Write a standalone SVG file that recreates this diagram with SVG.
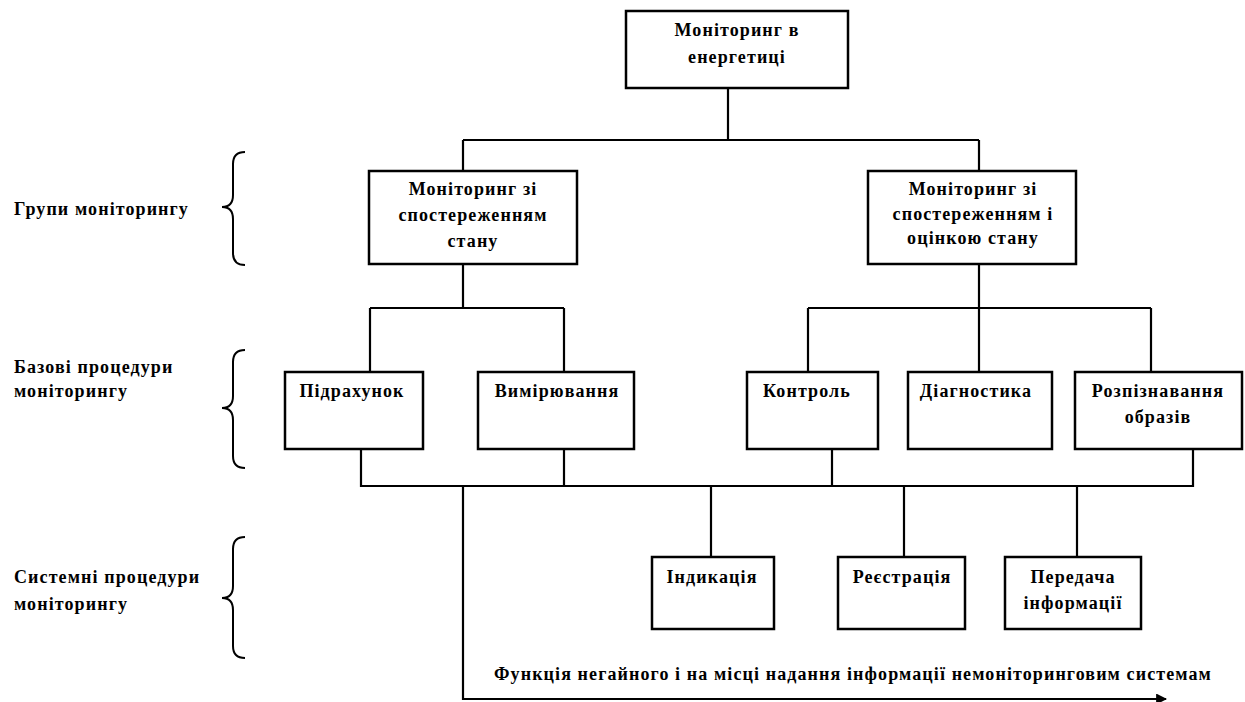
<svg xmlns="http://www.w3.org/2000/svg" width="1245" height="702" viewBox="0 0 1245 702">
<defs>
<marker id="arr" viewBox="0 0 10 10" refX="9" refY="5" markerWidth="5" markerHeight="5" orient="auto" markerUnits="strokeWidth">
<path d="M0,0 L10,5 L0,10 z" fill="#000"/>
</marker>
<style>
.box{fill:#fff;stroke:#000;stroke-width:2.5}
.ln{fill:none;stroke:#000;stroke-width:2.2}
.br{fill:none;stroke:#000;stroke-width:2}
text{font-family:"Liberation Serif","Times New Roman",serif;font-weight:bold;font-size:18px;letter-spacing:1.1px;fill:#000}
.c{text-anchor:middle}
</style>
</defs>
<rect width="1245" height="702" fill="#fff"/>

<g id="connectors">
<path class="ln" d="M728,88 V140 M463,140 H979 M463,140 V171 M979,140 V171"/>
<path class="ln" d="M463,264 V308 M370,308 H564 M370,308 V372 M564,308 V372"/>
<path class="ln" d="M979,264 V308 M808,308 H1151 M808,308 V372 M979,308 V372 M1151,308 V372"/>
<path class="ln" d="M361,449 V486 H1193 V449 M564,449 V486 M832,449 V486"/>
<path class="ln" d="M711,486 V557 M904,486 V557 M1077,486 V557"/>
<path class="ln" d="M463,486 V699 H1166" marker-end="url(#arr)"/>
</g>

<g id="labels">
<text x="14" y="215">Групи моніторингу</text>
<path class="br" d="M245,152 Q233,152 233,164 L233,195 Q233,207 222,207 Q233,207 233,219 L233,253 Q233,265 245,265"/>
<text x="14" y="373">Базові процедури</text>
<text x="14" y="397">моніторингу</text>
<path class="br" d="M245,350 Q233,350 233,362 L233,396 Q233,408 222,408 Q233,408 233,420 L233,456 Q233,468 245,468"/>
<text x="14" y="583">Системні процедури</text>
<text x="14" y="610">моніторингу</text>
<path class="br" d="M245,537 Q233,537 233,549 L233,586 Q233,598 222,598 Q233,598 233,610 L233,646 Q233,658 245,658"/>
<text x="494" y="680">Функція негайного і на місці надання інформації немоніторинговим системам</text>
</g>

<g id="n-root"><rect class="box" x="626" y="11" width="222" height="77"/>
<text class="c" x="737" y="36">Моніторинг в</text><text class="c" x="737" y="63">енергетиці</text></g>

<g id="n-g1"><rect class="box" x="369" y="171" width="208" height="93"/>
<text class="c" x="473" y="195">Моніторинг зі</text><text class="c" x="473" y="221">спостереженням</text><text class="c" x="473" y="247">стану</text></g>

<g id="n-g2"><rect class="box" x="868" y="171" width="208" height="93"/>
<text class="c" x="973" y="195">Моніторинг зі</text><text class="c" x="973" y="220">спостереженням і</text><text class="c" x="973" y="244">оцінкою стану</text></g>

<g id="n-b1"><rect class="box" x="285" y="372" width="138" height="77"/><text class="c" x="352" y="397">Підрахунок</text></g>
<g id="n-b2"><rect class="box" x="478" y="372" width="156" height="77"/><text class="c" x="557" y="397">Вимірювання</text></g>
<g id="n-b3"><rect class="box" x="747" y="372" width="131" height="77"/><text class="c" x="807" y="397">Контроль</text></g>
<g id="n-b4"><rect class="box" x="908" y="372" width="144" height="77"/><text class="c" x="976" y="397">Діагностика</text></g>
<g id="n-b5"><rect class="box" x="1075" y="372" width="167" height="77"/><text class="c" x="1158" y="397">Розпізнавання</text><text class="c" x="1158" y="423">образів</text></g>

<g id="n-s1"><rect class="box" x="652" y="557" width="122" height="72"/><text class="c" x="712" y="583">Індикація</text></g>
<g id="n-s2"><rect class="box" x="838" y="557" width="127" height="72"/><text class="c" x="902" y="583">Реєстрація</text></g>
<g id="n-s3"><rect class="box" x="1005" y="557" width="136" height="72"/><text class="c" x="1073" y="583">Передача</text><text class="c" x="1073" y="609">інформації</text></g>
</svg>
